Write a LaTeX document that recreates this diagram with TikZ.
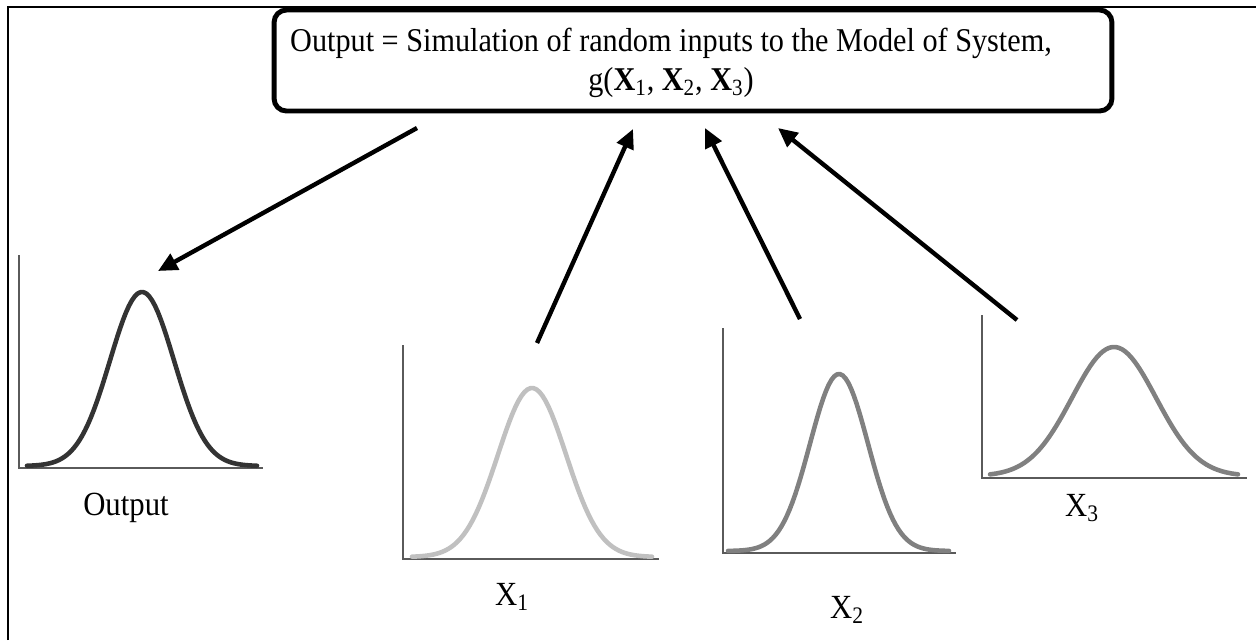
\documentclass[tikz,border=0pt]{standalone}
\usepackage{fontspec}
\setmainfont{Liberation Serif}
\usepackage{tikz}
\usepackage{xcolor}
\usetikzlibrary{arrows.meta, positioning, calc}
\definecolor{cDark}{RGB}{51,51,51}
\definecolor{cLight}{RGB}{192,192,192}
\definecolor{cMid}{RGB}{128,128,128}
\definecolor{cAxis}{RGB}{90,90,90}
\tikzset{
	modelbox/.style={rectangle, rounded corners=7pt, draw=black, line width=2.8pt, minimum width=16.76cm, minimum height=2.02cm},
	titletext/.style={align=center, inner sep=0pt, yscale=1.1, transform shape, font=\fontsize{17.2}{20}\selectfont},
	lbl/.style={inner sep=0pt, yscale=1.1, transform shape, font=\fontsize{17.5}{20}\selectfont},
	axisln/.style={draw=cAxis, line width=0.7pt},
	bell/.style={line width=2.6pt, line join=round, line cap=round},
	sim/.style={-{Triangle[length=11pt, width=10pt]}, line width=2.5pt},
}
\begin{document}
\begin{tikzpicture}[x=0.02cm, y=-0.02cm]
	\useasboundingbox (0,0) rectangle (1256,640);
	% frame
	\draw[line width=1.1pt] (8,640) -- (8,7) -- (1256,7);
	% model of system
	\node[modelbox] (model) at (693,60.5) {};
	\node[titletext] (modeltext) at (671,63) {Output = Simulation of random inputs to the Model of System,\\
		g(\textbf{X}\textsubscript{1}, \textbf{X}\textsubscript{2}, \textbf{X}\textsubscript{3})};
	% distributions: axis x / base / axis end / axis top / curve from / curve to / peak / sigma / height / colour
	\foreach \bx/\by/\ex/\tp/\cs/\ce/\pk/\sg/\hh/\col in {19/468/263/255/27/257/142/32/174/cDark, 403/559/659/345/412/652/532/34/169/cLight, 723/553/956/328/728/949/839/29/177/cMid, 982/478/1247/315/990/1238/1114/42/129/cMid} {
		\draw[axisln] (\bx,\tp) -- (\bx,\by) -- (\ex,\by);
		\draw[bell, \col] plot[domain=\cs:\ce, samples=80] (\x, {\by-2-\hh*exp(-0.5*pow((\x-\pk)/\sg,2))});
	}
	\node[lbl] (outLbl) at (126,508) {Output};
	\node[lbl] (xOneLbl) at (512,597) {X\textsubscript{1}};
	\node[lbl] (xTwoLbl) at (847,610) {X\textsubscript{2}};
	\node[lbl] (xThreeLbl) at (1082,508) {X\textsubscript{3}};
	% arrow ends
	\coordinate (mOut) at (417,128);
	\coordinate (pOut) at (158,271);
	\coordinate (pOne) at (537,343);
	\coordinate (mOne) at (633,129);
	\coordinate (pTwo) at (800,319);
	\coordinate (mTwo) at (705,128);
	\coordinate (pThree) at (1017,320);
	\coordinate (mThree) at (778,128);
	\draw[sim] (mOut) -- (pOut);
	\draw[sim] (pOne) -- (mOne);
	\draw[sim] (pTwo) -- (mTwo);
	\draw[sim] (pThree) -- (mThree);
\end{tikzpicture}
\end{document}
